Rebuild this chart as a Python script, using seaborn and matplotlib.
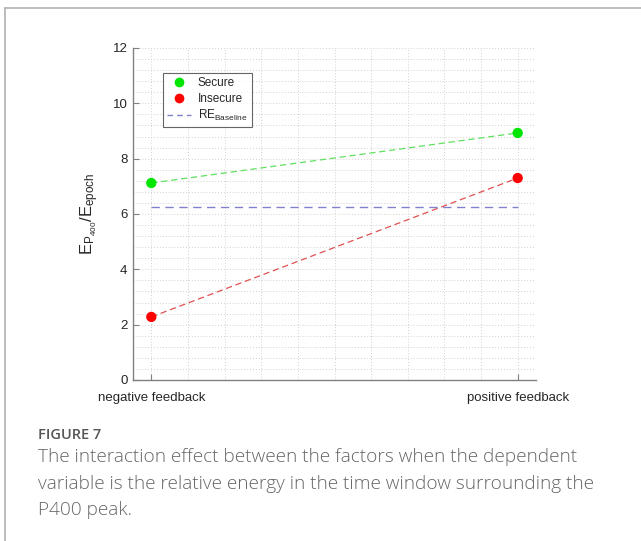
import matplotlib
matplotlib.use("Agg")
import matplotlib.pyplot as plt
import seaborn as sns
import pandas as pd
import numpy as np
from matplotlib.lines import Line2D

conditions = ["negative feedback", "positive feedback"]
groups = ["Secure", "Insecure"]
secure_vals = [7.12, 8.93]
insecure_vals = [2.28, 7.30]
baseline_val = 6.25
yticks = [0, 2, 4, 6, 8, 10, 12]

df = pd.DataFrame({
    "cond": [1, 2, 1, 2],
    "group": ["Secure", "Secure", "Insecure", "Insecure"],
    "value": secure_vals + insecure_vals,
})
dfb = pd.DataFrame({"cond": [1, 2], "value": [baseline_val, baseline_val]})

sns.set_style("white")
plt.rcParams["font.family"] = ["Liberation Sans", "DejaVu Sans"]

fig = plt.figure(figsize=(6.41, 5.41), dpi=100)
ax = fig.add_axes([133/641, 1-380/541, 403/641, 332/541])

line_pal = {"Secure": "#5fe05f", "Insecure": "#e05050"}
mark_pal = {"Secure": "#00e600", "Insecure": "#ff0000"}

sns.lineplot(data=df, x="cond", y="value", hue="group", palette=line_pal,
             ax=ax, legend=False, linewidth=0.9, dashes=False, linestyle=(0, (5, 3)))
sns.lineplot(data=dfb, x="cond", y="value", color="#8080cc", ax=ax,
             linewidth=1.0, linestyle=(0, (6, 4)), legend=False)
sns.scatterplot(data=df, x="cond", y="value", hue="group", palette=mark_pal,
                ax=ax, legend=False, s=55, edgecolor="none", zorder=5)

ax.set_xlim(0.95, 2.05)
ax.set_ylim(0, 12)
ax.set_xticks([1, 2])
ax.set_xticklabels(conditions)
ax.set_yticks(yticks)
ax.set_xticks(np.arange(1.0, 2.001, 0.1), minor=True)
ax.set_yticks(np.arange(0, 12.001, 0.4), minor=True)
ax.grid(which="both", color="#d0d0d0", linestyle=(0, (1, 2)), linewidth=0.7)
ax.set_axisbelow(True)
for s in ["top", "right"]:
    ax.spines[s].set_visible(False)
for s in ["left", "bottom"]:
    ax.spines[s].set_color("#808080")
    ax.spines[s].set_linewidth(1.0)
ax.tick_params(which="major", direction="in", length=4, color="#808080",
               labelsize=9.5, labelcolor="#262626", left=True, bottom=True, pad=4)
ax.tick_params(axis="x", which="major", pad=9)
ax.tick_params(which="minor", length=0)
ax.set_xlabel("")
ax.set_ylabel(r"$\mathregular{E_{P_{400}}/E_{epoch}}$", fontsize=12, color="#262626", labelpad=8)

handles = [
    Line2D([], [], marker="o", color="none", markerfacecolor="#00e600", markeredgecolor="none", markersize=7, label="Secure"),
    Line2D([], [], marker="o", color="none", markerfacecolor="#ff0000", markeredgecolor="none", markersize=7, label="Insecure"),
    Line2D([], [], color="#8080cc", linestyle=(0, (4, 3)), linewidth=1.0, label=r"$\mathregular{RE_{Baseline}}$"),
]
leg = ax.legend(handles=handles, loc="upper left", bbox_to_anchor=(30/403, 1-25/332),
                borderaxespad=0, fontsize=8.5, frameon=True, fancybox=False, edgecolor="#404040",
                borderpad=0.35, handlelength=2.0, labelspacing=0.3, handletextpad=0.6)
leg.get_frame().set_linewidth(0.8)

# page border lines
fig.add_artist(Line2D([5/641, 5/641], [0, 1-8/541], color="#b0b0b0", linewidth=1.2))
fig.add_artist(Line2D([5/641, 1], [1-8/541, 1-8/541], color="#b0b0b0", linewidth=1.2))

fig.text(38/641, 1-435/541, "FIGURE 7", fontsize=10.5, color="#555555",
         family=["Open Sans", "DejaVu Sans"], va="center", fontweight="semibold")
caption = ("The interaction effect between the factors when the dependent\n"
           "variable is the relative energy in the time window surrounding the\n"
           "P400 peak.")
fig.text(38/641, 1-448/541, caption, fontsize=13.7, color="#666666",
         family=["Open Sans", "DejaVu Sans"], va="top", linespacing=1.62, fontweight="light")

fig.savefig("out.png", dpi=100)
